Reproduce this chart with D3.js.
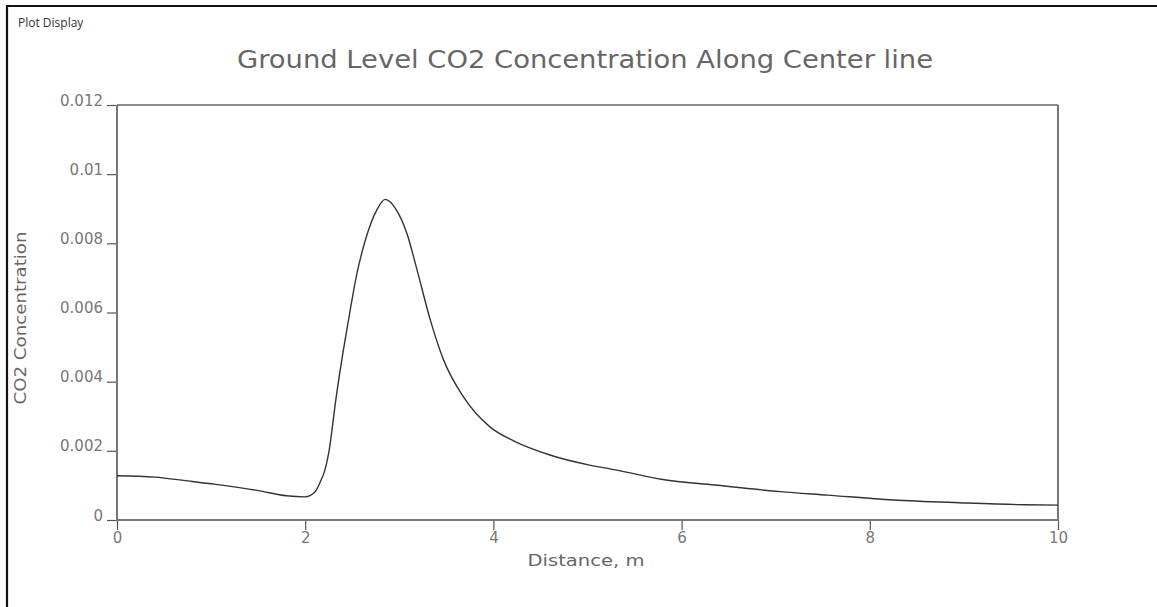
<!DOCTYPE html>
<html>
<head>
<meta charset="utf-8">
<script src="https://cdn.jsdelivr.net/npm/d3@7"></script>
<style>
  body { margin: 0; background: #fff; }
  svg { display: block; }
</style>
</head>
<body>
<div id="graph"></div>
<script>
// ------DATA------
// distance along the centre line (m)
const distance = [0, 0.4, 0.75, 1.05, 1.5, 1.8, 2.0, 2.1, 2.16, 2.21, 2.25, 2.33, 2.4, 2.46, 2.55, 2.65, 2.76, 2.85,
  2.97, 3.08, 3.18, 3.33, 3.47, 3.68, 3.96, 4.22, 4.6, 5.0, 5.3, 5.8, 6.35, 7.05, 7.55, 8.25, 8.95, 9.65, 10]
// ground level CO2 concentration
const concentration = [0.00128, 0.00124, 0.00113, 0.00103, 0.00085, 0.00070, 0.00067, 0.00080, 0.00110, 0.00145,
  0.00194, 0.00357, 0.00482, 0.00578, 0.00713, 0.00819, 0.00896, 0.00927, 0.00896, 0.00829, 0.00732, 0.00578,
  0.00463, 0.00357, 0.00270, 0.00228, 0.00188, 0.00160, 0.00145, 0.00117, 0.00101, 0.00082, 0.00072, 0.00058,
  0.00050, 0.00044, 0.00043]

const xTicks = [0, 2, 4, 6, 8, 10]
const xTickLabels = ["0", "2", "4", "6", "8", "10"]
const yTicks = [0, 0.002, 0.004, 0.006, 0.008, 0.01, 0.012]
const yTickLabels = ["0", "0.002", "0.004", "0.006", "0.008", "0.01", "0.012"]

const title = "Ground Level CO2 Concentration Along Center line"
const xLabel = "Distance, m"
const yLabel = "CO2 Concentration"

// ------LAYOUT------
const width = 1157
const height = 607
const margin = { top: 105, right: 99, bottom: 87, left: 117 }
const gWidth = width - margin.left - margin.right
const gHeight = height - margin.top - margin.bottom
const hershey = "'DejaVu Sans', 'Liberation Sans', sans-serif"

const svg = d3.select('#graph')
              .append("svg")
                .attr("width", width)
                .attr("height", height)

// window frame (only top and left edges visible in the screenshot)
svg.append("path")
  .attr("d", `M7,${height} L7,6 L${width},6`)
  .attr("fill", "none")
  .attr("stroke", "#111")
  .attr("stroke-width", 2.2)

svg.append("text")
  .attr("x", 18)
  .attr("y", 27)
  .style("font-family", "'Open Sans', 'Noto Sans', sans-serif")
  .style("font-size", "12px")
  .attr("fill", "#333")
  .text("Plot Display")

// title
svg.append("text")
  .attr("x", 585)
  .attr("y", 68)
  .attr("text-anchor", "middle")
  .attr("textLength", 696)
  .attr("lengthAdjust", "spacingAndGlyphs")
  .style("font-family", hershey)
  .style("font-size", "24px")
  .attr("fill", "#666")
  .text(title)

let graph = svg.append('g').attr("transform", `translate(${margin.left}, ${margin.top})`)

// ------SCALES------
const xScale = d3.scaleLinear().domain([0, 10]).range([0, gWidth])
const yScale = d3.scaleLinear().domain([0, 0.012]).range([gHeight, 0])

// ------AXES------
const xAxis = graph.append('g')
  .attr("transform", `translate(0, ${gHeight})`)
  .call(d3.axisBottom(xScale)
    .tickValues(xTicks)
    .tickFormat((d, i) => xTickLabels[i])
    .tickSize(10)
    .tickPadding(2))
const yAxis = graph.append('g')
  .call(d3.axisLeft(yScale)
    .tickValues(yTicks)
    .tickFormat((d, i) => yTickLabels[i])
    .tickSize(10)
    .tickPadding(4))

// the domain paths are replaced by the frame below
xAxis.select(".domain").remove()
yAxis.select(".domain").remove()
graph.selectAll(".tick line").attr("stroke", "#555").attr("stroke-width", 1.2)
graph.selectAll(".tick text")
  .style("font-family", hershey)
  .style("font-size", "15px")
  .attr("fill", "#777")
// y labels sit on the tick, like an underscore
yAxis.selectAll(".tick text").attr("dy", "0")

// plot frame
graph.append("path")
  .attr("d", `M0,0 L0,${gHeight} L${gWidth},${gHeight} L${gWidth},0`)
  .attr("fill", "none")
  .attr("stroke", "#777")
  .attr("stroke-width", 2)
graph.append("line")
  .attr("x1", 0).attr("x2", gWidth)
  .attr("y1", 0).attr("y2", 0)
  .attr("stroke", "#666")
  .attr("stroke-width", 1.3)

// ------CURVE------
const line = d3.line()
  .x((d, i) => xScale(distance[i]))
  .y(d => yScale(d))
  .curve(d3.curveMonotoneX)

graph.append("path")
  .datum(concentration)
  .attr("d", line)
  .attr("fill", "none")
  .attr("stroke", "#333")
  .attr("stroke-width", 1.4)

// ------AXIS LABELS------
svg.append("text")
  .attr("x", 586)
  .attr("y", 566)
  .attr("text-anchor", "middle")
  .attr("textLength", 117)
  .attr("lengthAdjust", "spacingAndGlyphs")
  .style("font-family", hershey)
  .style("font-size", "16px")
  .attr("fill", "#666")
  .text(xLabel)

svg.append("text")
  .attr("transform", `translate(26, 318) rotate(-90)`)
  .attr("text-anchor", "middle")
  .attr("textLength", 173)
  .attr("lengthAdjust", "spacingAndGlyphs")
  .style("font-family", hershey)
  .style("font-size", "15px")
  .attr("fill", "#666")
  .text(yLabel)
</script>
</body>
</html>
